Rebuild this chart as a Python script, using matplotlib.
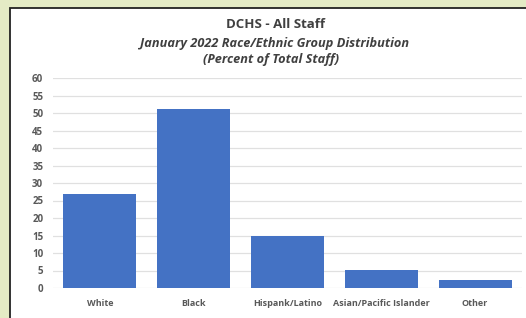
import matplotlib.pyplot as plt
from matplotlib.patches import Rectangle

# data
categories = ['White', 'Black', 'Hispank/Latino', 'Asian/Pacific Islander', 'Other']
percent = [26.9, 51.2, 15.0, 5.1, 2.3]

plt.rcParams['font.family'] = ['Open Sans', 'DejaVu Sans']

W, H = 526, 318
fig = plt.figure(figsize=(W / 100, H / 100), dpi=100)
fig.patch.set_facecolor('#e4ebc5')

# white panel with dark border on left/top
bg = fig.add_axes([0, 0, 1, 1], zorder=-1)
bg.set_xlim(0, W)
bg.set_ylim(H, 0)
bg.axis('off')
bg.add_patch(Rectangle((9.5, 7.5), W, H, facecolor='white', edgecolor='#222222', linewidth=1.3))

ax = fig.add_axes([53 / W, (H - 288) / H, (522 - 53) / W, 210 / H])
ax.set_facecolor('white')
ax.bar(range(len(categories)), percent, width=0.78, color='#4472c4', zorder=3)
ax.set_xlim(-0.5, len(categories) - 0.5)
ax.set_ylim(0, 60)
ax.set_yticks(range(0, 61, 5))
ax.set_xticks(range(len(categories)))
ax.set_xticklabels(categories)
ax.yaxis.grid(True, color='#e0e0e0', linewidth=0.9, zorder=0)
for s in ax.spines.values():
    s.set_visible(False)
ax.tick_params(length=0, labelcolor='#595959')
ax.tick_params(axis='y', pad=7, labelsize=7)
ax.tick_params(axis='x', pad=8, labelsize=6.5)
for lab in ax.get_xticklabels() + ax.get_yticklabels():
    lab.set_fontweight('bold')

fig.text(275 / W, (H - 24) / H, 'DCHS - All Staff', ha='center', va='center',
         fontsize=9.5, fontweight='bold', color='#404040')
fig.text(275 / W, (H - 43) / H, 'January 2022 Race/Ethnic Group Distribution', ha='center',
         va='center', fontsize=9.2, fontweight='bold', style='italic', color='#404040')
fig.text(271 / W, (H - 60) / H, '(Percent of Total Staff)', ha='center', va='center',
         fontsize=9.2, fontweight='bold', style='italic', color='#404040')

fig.savefig('out.png', dpi=100, facecolor=fig.get_facecolor())
